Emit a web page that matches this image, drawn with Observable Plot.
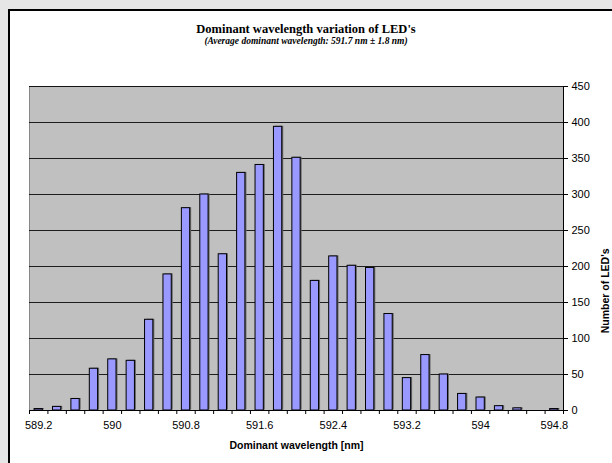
<!DOCTYPE html>
<html><head><meta charset="utf-8">
<script src="https://cdn.jsdelivr.net/npm/d3@7"></script>
<script src="https://cdn.jsdelivr.net/npm/@observablehq/plot@0.6"></script>
<style>
html,body{margin:0;padding:0;background:#e6e6e6;width:612px;height:463px;overflow:hidden;}
#frame{position:absolute;left:8px;top:9px;width:700px;height:600px;border:2px solid #000;background:#fff;}
#chart{position:absolute;left:0;top:0;}
.t{position:absolute;left:0;width:612px;text-align:center;font-family:"Liberation Serif","Times New Roman",serif;font-weight:bold;color:#000;white-space:nowrap;line-height:1;}
#title{top:23px;font-size:12.5px;}
#subtitle{top:37px;font-size:9.5px;font-style:italic;}
</style></head><body>
<div id="frame"></div>
<div id="title" class="t">Dominant wavelength variation of LED's</div>
<div id="subtitle" class="t">(Average dominant wavelength: 591.7 nm ± 1.8 nm)</div>
<div id="chart"></div>
<script>
const wavelengths = [589.2, 589.4, 589.6, 589.8, 590.0, 590.2, 590.4, 590.6, 590.8, 591.0,
                     591.2, 591.4, 591.6, 591.8, 592.0, 592.2, 592.4, 592.6, 592.8, 593.0,
                     593.2, 593.4, 593.6, 593.8, 594.0, 594.2, 594.4, 594.6, 594.8];
const counts = [2, 5, 16, 58, 71, 69, 126, 189, 281, 300,
                217, 330, 341, 394, 351, 180, 214, 201, 198, 134,
                45, 77, 50, 23, 18, 6, 3, 0, 2];
const xTickLabels = ["589.2", "590", "590.8", "591.6", "592.4", "593.2", "594", "594.8"];
const yTicks = [0, 50, 100, 150, 200, 250, 300, 350, 400, 450];

const data = wavelengths.map((w, i) => ({w, n: counts[i]}));
const step = 0.2;
const xDomain = [wavelengths[0] - step / 2, wavelengths[wavelengths.length - 1] + step / 2];
const boundaries = wavelengths.map(w => w - step / 2).concat([xDomain[1]]);
const labelValues = xTickLabels.map(Number);
const half = 0.045;

const chart = Plot.plot({
  width: 612,
  height: 463,
  marginLeft: 29,
  marginRight: 49,
  marginTop: 86,
  marginBottom: 53,
  x: {domain: xDomain},
  y: {domain: [0, 450]},
  style: {fontFamily: "'Liberation Sans', Arial, sans-serif", fontSize: "11px", color: "#000", background: "transparent"},
  marks: [
    Plot.frame({fill: "#c0c0c0", stroke: "#888"}),
    Plot.gridY(yTicks, {stroke: "#000", strokeOpacity: 0.85}),
    Plot.rectY(data, {x1: d => d.w - half, x2: d => d.w + half, y: "n", fill: "#666", dx: 1.5, dy: -0.5}),
    Plot.rectY(data, {x1: d => d.w - half, x2: d => d.w + half, y: "n", fill: "#9999ff", stroke: "#000", strokeWidth: 1}),
    Plot.ruleY([0], {stroke: "#000"}),
    Plot.ruleX([xDomain[1]], {stroke: "#000"}),
    Plot.axisX({ticks: boundaries, tickSize: 4, tickFormat: () => "", stroke: "#000"}),
    Plot.axisX({ticks: labelValues, tickSize: 0, tickPadding: 11, tickFormat: d => xTickLabels[labelValues.indexOf(d)]}),
    Plot.axisY({anchor: "right", ticks: yTicks, tickSize: 4, tickPadding: 4, label: null}),
    Plot.text(["Dominant wavelength [nm]"], {text: d => d, frameAnchor: "bottom", dy: 38, fontWeight: "bold", fontSize: 10.5}),
    Plot.text(["Number of LED's"], {text: d => d, frameAnchor: "right", dx: 42, rotate: -90, fontWeight: "bold", fontSize: 10.5})
  ]
});
document.getElementById("chart").appendChild(chart);
</script>
</body></html>
